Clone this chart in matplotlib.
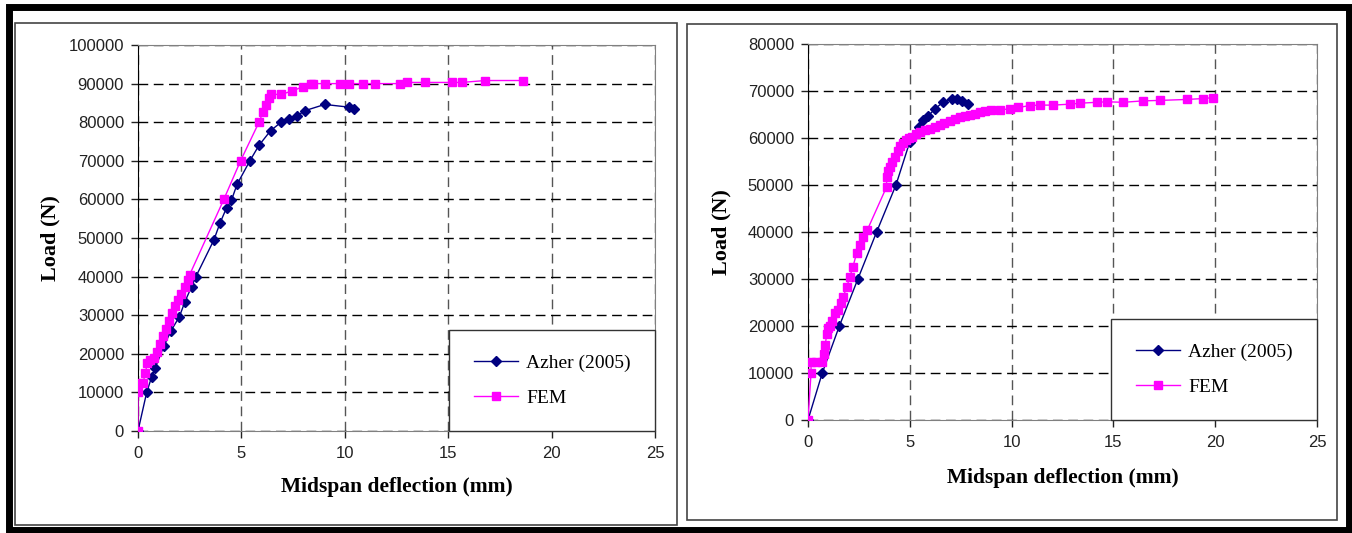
import matplotlib
matplotlib.use("Agg")
import matplotlib.pyplot as plt
from matplotlib.patches import Rectangle

# datos (deflexion en mm, carga en N)
azher_izq_x = [0, 0.42, 0.66, 0.82, 1.25, 1.6, 2.0, 2.27, 2.59, 2.8, 3.67, 3.96, 4.28, 4.52,
               4.79, 5.41, 5.85, 6.41, 6.92, 7.31, 7.7, 8.08, 9.03, 10.2, 10.43]
azher_izq_y = [0, 10000, 14000, 16200, 22000, 26000, 29600, 33500, 37400, 40000, 49500, 53800,
               57800, 59800, 63900, 70000, 74000, 77800, 80000, 80700, 81700, 83000, 84600,
               83900, 83300]

fem_izq_x = [0, 0, 0.05, 0.25, 0.35, 0.45, 0.6, 0.75, 0.9, 1.05, 1.2, 1.35, 1.5, 1.65, 1.8,
             1.95, 2.1, 2.25, 2.4, 2.5, 4.15, 4.96, 5.86, 6.05, 6.21, 6.34, 6.45, 6.93, 7.46,
             7.98, 8.38, 8.47, 9.03, 9.76, 10.2, 10.9, 11.45, 12.66, 13.0, 13.9, 15.2, 15.65,
             16.8, 18.6]
fem_izq_y = [0, 10000, 12500, 12500, 15000, 17500, 18300, 18800, 20500, 22500, 24500, 26500,
             28500, 30500, 32500, 34000, 35500, 37300, 39000, 40500, 60000, 70000, 80100, 82700,
             84500, 86200, 87200, 87200, 88100, 89200, 89900, 90000, 90000, 90000, 90000, 90000,
             90000, 90000, 90300, 90300, 90300, 90300, 90800, 90800]

azher_der_x = [0, 0.7, 1.54, 2.44, 3.37, 4.32, 5.0, 5.47, 5.66, 5.9, 6.24, 6.65, 7.06, 7.3,
               7.55, 7.87]
azher_der_y = [0, 10000, 20000, 29900, 40000, 50000, 59200, 62300, 63800, 64700, 66200, 67700,
               68400, 68200, 67900, 67200]

fem_der_x = [0, 0.15, 0.15, 0.4, 0.7, 0.8, 0.85, 0.92, 1.0, 1.08, 1.2, 1.33, 1.49, 1.6, 1.73,
             1.9, 2.06, 2.2, 2.39, 2.55, 2.72, 2.91, 3.86, 3.86, 3.95, 4.03, 4.15, 4.27, 4.4,
             4.52, 4.65, 4.81, 4.95, 5.09, 5.3, 5.5, 5.75, 5.99, 6.25, 6.48, 6.7, 6.97, 7.2,
             7.47, 7.7, 7.96, 8.2, 8.45, 8.7, 9.0, 9.43, 9.92, 10.33, 10.9, 11.4, 12.05, 12.87,
             13.36, 14.18, 14.67, 15.49, 16.47, 17.29, 18.6, 19.42, 19.91]
fem_der_y = [0, 10000, 12300, 12300, 12300, 14000, 16000, 18400, 19500, 19900, 21000, 22700,
             23400, 24800, 26200, 28300, 30500, 32500, 35500, 37300, 39000, 40400, 49600, 51800,
             52900, 53900, 55000, 56000, 57200, 58200, 59000, 59600, 60000, 60300, 60800, 61300,
             61600, 62000, 62400, 62800, 63200, 63700, 64000, 64400, 64700, 64900, 65200, 65600,
             65800, 65900, 66000, 66200, 66500, 66900, 67000, 67000, 67200, 67400, 67600, 67700,
             67600, 67900, 68000, 68200, 68400, 68600]

x_ticks = [0, 5, 10, 15, 20, 25]
y_ticks_izq = list(range(0, 100001, 10000))
y_ticks_der = list(range(0, 80001, 10000))

W, H = 1352, 533
fig = plt.figure(figsize=(W / 100, H / 100), dpi=100)


def px_rect(x0, y0, x1, y1, **kw):
    # rectangulo en pixeles de la figura (y hacia abajo)
    r = Rectangle((x0 / W, 1 - y1 / H), (x1 - x0) / W, (y1 - y0) / H,
                  transform=fig.transFigure, fill=False, **kw)
    fig.add_artist(r)


px_rect(9, 7, 1348.5, 530, ec="black", lw=5.0)
px_rect(15, 23, 677, 525, ec="#444444", lw=1.2)
px_rect(687, 24, 1337, 520, ec="#444444", lw=1.2)


def panel(rect, ax_x, ax_y, fem_x, fem_y, yticks, ylabel_x, xlabel_y):
    ax = fig.add_axes(rect)
    ax.plot(ax_x, ax_y, color="#000080", marker="D", markersize=5.5, lw=1,
            label="Azher (2005)", zorder=3)
    ax.plot(fem_x, fem_y, color="#FF00FF", marker="s", markersize=5.5, lw=1,
            label="FEM", zorder=3)
    ax.set_xlim(0, 25)
    ax.set_ylim(0, yticks[-1])
    ax.set_xticks(x_ticks)
    ax.set_yticks(yticks)
    ax.set_yticklabels([str(v) for v in yticks])
    ax.tick_params(direction="out", length=5, width=1, labelsize=12,
                   labelcolor="#222222", colors="#222222")
    ax.tick_params(axis="y", pad=5)
    ax.tick_params(axis="x", pad=6)
    for lab in ax.get_xticklabels() + ax.get_yticklabels():
        lab.set_fontfamily("Liberation Sans")
    ax.yaxis.grid(True, color="black", lw=1, dashes=(7, 4))
    ax.xaxis.grid(True, color="#555555", lw=1, dashes=(7, 4))
    ax.set_axisbelow(True)
    ax.spines["left"].set_color("black")
    for s in ["bottom", "top", "right"]:
        ax.spines[s].set_color("#808080")
    ax.set_xlabel("Midspan deflection (mm)", fontsize=15.5, fontweight="bold",
                  fontfamily="Liberation Serif")
    ax.set_ylabel("Load (N)", fontsize=16, fontweight="bold",
                  fontfamily="Liberation Serif")
    ax.xaxis.set_label_coords(0.5, xlabel_y)
    ax.xaxis.label.set_va("center")
    ax.yaxis.set_label_coords(ylabel_x, 0.5)
    ax.yaxis.label.set_va("center")
    leg = ax.legend(loc="lower right", bbox_to_anchor=(1, 0), borderaxespad=0,
                    fancybox=False, edgecolor="#333333", framealpha=1,
                    prop={"family": "Liberation Serif", "size": 14},
                    borderpad=1.25, labelspacing=0.9, handlelength=2.3,
                    handletextpad=0.4)
    leg.get_frame().set_linewidth(1)
    return ax


panel([138 / W, 1 - 431 / H, 517 / W, 386 / H], azher_izq_x, azher_izq_y,
      fem_izq_x, fem_izq_y, y_ticks_izq, -0.170, -0.145)
panel([808 / W, 1 - 420 / H, 509 / W, 376 / H], azher_der_x, azher_der_y,
      fem_der_x, fem_der_y, y_ticks_der, -0.169, -0.154)

fig.savefig("out.png", dpi=100)
